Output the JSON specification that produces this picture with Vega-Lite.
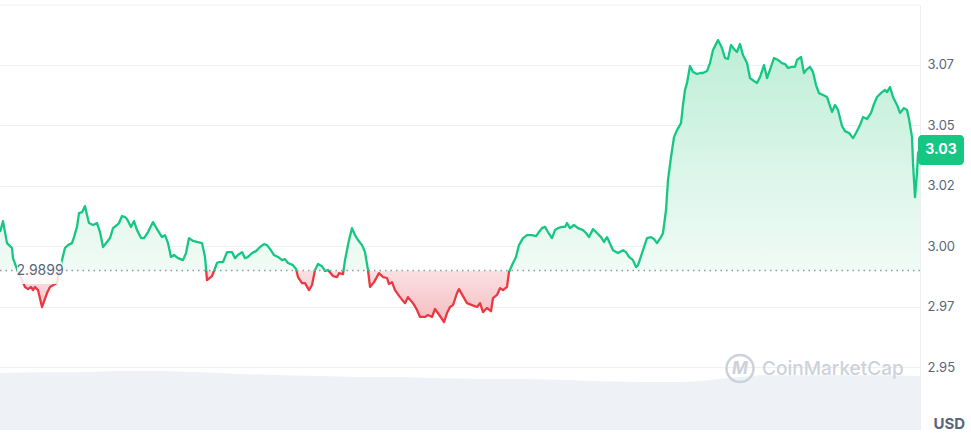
{
  "$schema": "https://vega.github.io/schema/vega-lite/v6.json",
  "width": 920,
  "height": 425,
  "autosize": {"type": "none"},
  "padding": {"left": 0, "top": 5, "right": 51, "bottom": 5},
  "background": "white",
  "config": {"font": "Inter", "view": {"stroke": null}},
  "datasets": {
    "vol": [
      {"t": 0, "volume": 13.4}, {"t": 40, "volume": 13.6}, {"t": 80, "volume": 13.6}, {"t": 120, "volume": 13.9},
      {"t": 160, "volume": 13.9}, {"t": 200, "volume": 13.6}, {"t": 240, "volume": 13.2}, {"t": 280, "volume": 12.9},
      {"t": 320, "volume": 12.7}, {"t": 360, "volume": 12.5}, {"t": 400, "volume": 12.5}, {"t": 440, "volume": 12.2},
      {"t": 480, "volume": 12.0}, {"t": 520, "volume": 12.0}, {"t": 560, "volume": 11.8}, {"t": 600, "volume": 11.5},
      {"t": 640, "volume": 11.3}, {"t": 680, "volume": 11.3}, {"t": 700, "volume": 11.5}, {"t": 720, "volume": 12.0},
      {"t": 740, "volume": 12.5}, {"t": 760, "volume": 12.9}, {"t": 800, "volume": 12.9}, {"t": 840, "volume": 12.9},
      {"t": 880, "volume": 12.9}, {"t": 920, "volume": 12.7}
    ],
    "price": [
      {"t":0,"price":3.0058},{"t":3,"price":3.0103},{"t":7,"price":3.0012},{"t":9,"price":3.0004},{"t":12,"price":2.9992},
      {"t":13,"price":2.9950},{"t":18,"price":2.9893},{"t":22,"price":2.9859},{"t":25,"price":2.9831},{"t":28,"price":2.9822},
      {"t":31,"price":2.9831},{"t":33,"price":2.9818},{"t":35,"price":2.9831},{"t":38,"price":2.9818},{"t":42,"price":2.9748},
      {"t":47,"price":2.9806},{"t":50,"price":2.9831},{"t":55,"price":2.9843},{"t":57,"price":2.9847},{"t":59,"price":2.9893},
      {"t":62,"price":2.9942},{"t":65,"price":2.9992},{"t":68,"price":3.0004},{"t":72,"price":3.0012},{"t":74,"price":3.0037},
      {"t":77,"price":3.0079},{"t":79,"price":3.0136},{"t":82,"price":3.0140},{"t":85,"price":3.0165},{"t":87,"price":3.0128},
      {"t":89,"price":3.0095},{"t":93,"price":3.0087},{"t":97,"price":3.0095},{"t":100,"price":3.0058},{"t":103,"price":2.9996},
      {"t":107,"price":3.0017},{"t":110,"price":3.0033},{"t":113,"price":3.0074},{"t":117,"price":3.0087},{"t":119,"price":3.0095},
      {"t":122,"price":3.0124},{"t":125,"price":3.0120},{"t":127,"price":3.0112},{"t":131,"price":3.0079},{"t":134,"price":3.0103},
      {"t":137,"price":3.0066},{"t":141,"price":3.0033},{"t":144,"price":3.0033},{"t":148,"price":3.0058},{"t":153,"price":3.0099},
      {"t":157,"price":3.0070},{"t":162,"price":3.0037},{"t":165,"price":3.0045},{"t":168,"price":3.0012},{"t":171,"price":2.9955},
      {"t":174,"price":2.9963},{"t":178,"price":2.9950},{"t":183,"price":2.9942},{"t":186,"price":2.9971},{"t":189,"price":3.0033},
      {"t":193,"price":3.0021},{"t":197,"price":3.0017},{"t":202,"price":3.0012},{"t":205,"price":2.9955},{"t":207,"price":2.9859},
      {"t":212,"price":2.9876},{"t":217,"price":2.9930},{"t":219,"price":2.9934},{"t":223,"price":2.9934},{"t":227,"price":2.9975},
      {"t":232,"price":2.9975},{"t":235,"price":2.9950},{"t":238,"price":2.9963},{"t":242,"price":2.9975},{"t":245,"price":2.9950},
      {"t":248,"price":2.9955},{"t":252,"price":2.9971},{"t":256,"price":2.9979},{"t":260,"price":2.9996},{"t":264,"price":3.0008},
      {"t":267,"price":3.0004},{"t":270,"price":2.9988},{"t":274,"price":2.9963},{"t":278,"price":2.9955},{"t":282,"price":2.9942},
      {"t":285,"price":2.9946},{"t":288,"price":2.9930},{"t":293,"price":2.9921},{"t":296,"price":2.9905},{"t":298,"price":2.9872},
      {"t":302,"price":2.9847},{"t":305,"price":2.9847},{"t":309,"price":2.9818},{"t":312,"price":2.9839},{"t":315,"price":2.9901},
      {"t":318,"price":2.9926},{"t":322,"price":2.9917},{"t":325,"price":2.9897},{"t":328,"price":2.9901},{"t":333,"price":2.9876},
      {"t":337,"price":2.9872},{"t":339,"price":2.9888},{"t":343,"price":2.9884},{"t":345,"price":2.9942},{"t":349,"price":3.0025},
      {"t":352,"price":3.0074},{"t":355,"price":3.0045},{"t":358,"price":3.0025},{"t":362,"price":3.0004},{"t":365,"price":2.9975},
      {"t":368,"price":2.9901},{"t":370,"price":2.9831},{"t":374,"price":2.9851},{"t":379,"price":2.9888},{"t":383,"price":2.9872},
      {"t":387,"price":2.9868},{"t":389,"price":2.9843},{"t":392,"price":2.9851},{"t":395,"price":2.9818},{"t":400,"price":2.9789},
      {"t":405,"price":2.9764},{"t":408,"price":2.9789},{"t":413,"price":2.9764},{"t":417,"price":2.9736},{"t":420,"price":2.9707},
      {"t":425,"price":2.9707},{"t":428,"price":2.9715},{"t":432,"price":2.9707},{"t":435,"price":2.9740},{"t":440,"price":2.9711},
      {"t":444,"price":2.9686},{"t":447,"price":2.9723},{"t":450,"price":2.9748},{"t":453,"price":2.9756},{"t":457,"price":2.9806},
      {"t":459,"price":2.9822},{"t":463,"price":2.9793},{"t":467,"price":2.9764},{"t":472,"price":2.9756},{"t":477,"price":2.9748},
      {"t":480,"price":2.9764},{"t":483,"price":2.9727},{"t":487,"price":2.9744},{"t":491,"price":2.9731},{"t":493,"price":2.9785},
      {"t":497,"price":2.9798},{"t":500,"price":2.9826},{"t":503,"price":2.9818},{"t":507,"price":2.9831},{"t":509,"price":2.9893},
      {"t":513,"price":2.9930},{"t":516,"price":2.9955},{"t":519,"price":3.0004},{"t":523,"price":3.0033},{"t":527,"price":3.0045},
      {"t":532,"price":3.0045},{"t":536,"price":3.0041},{"t":539,"price":3.0058},{"t":542,"price":3.0074},{"t":545,"price":3.0079},
      {"t":548,"price":3.0058},{"t":552,"price":3.0033},{"t":555,"price":3.0066},{"t":558,"price":3.0074},{"t":562,"price":3.0079},
      {"t":565,"price":3.0079},{"t":567,"price":3.0095},{"t":570,"price":3.0074},{"t":574,"price":3.0087},{"t":578,"price":3.0074},
      {"t":583,"price":3.0066},{"t":586,"price":3.0054},{"t":589,"price":3.0037},{"t":593,"price":3.0070},{"t":597,"price":3.0054},
      {"t":601,"price":3.0037},{"t":604,"price":3.0017},{"t":607,"price":3.0037},{"t":613,"price":2.9983},{"t":618,"price":2.9971},
      {"t":623,"price":2.9983},{"t":626,"price":2.9975},{"t":629,"price":2.9955},{"t":633,"price":2.9942},{"t":636,"price":2.9913},
      {"t":638,"price":2.9921},{"t":643,"price":2.9983},{"t":647,"price":3.0033},{"t":651,"price":3.0037},{"t":654,"price":3.0029},
      {"t":657,"price":3.0012},{"t":661,"price":3.0037},{"t":663,"price":3.0054},{"t":666,"price":3.0149},{"t":668,"price":3.0273},
      {"t":671,"price":3.0368},{"t":674,"price":3.0450},{"t":677,"price":3.0479},{"t":681,"price":3.0508},{"t":683,"price":3.0583},
      {"t":685,"price":3.0645},{"t":687,"price":3.0674},{"t":690,"price":3.0744},{"t":693,"price":3.0719},{"t":697,"price":3.0711},
      {"t":700,"price":3.0715},{"t":703,"price":3.0715},{"t":707,"price":3.0723},{"t":710,"price":3.0756},{"t":713,"price":3.0810},
      {"t":715,"price":3.0826},{"t":718,"price":3.0851},{"t":722,"price":3.0818},{"t":725,"price":3.0777},{"t":728,"price":3.0773},
      {"t":731,"price":3.0831},{"t":734,"price":3.0814},{"t":737,"price":3.0802},{"t":740,"price":3.0835},{"t":743,"price":3.0789},
      {"t":747,"price":3.0756},{"t":750,"price":3.0694},{"t":754,"price":3.0682},{"t":757,"price":3.0674},{"t":760,"price":3.0698},
      {"t":764,"price":3.0748},{"t":767,"price":3.0694},{"t":771,"price":3.0740},{"t":774,"price":3.0777},{"t":778,"price":3.0769},
      {"t":782,"price":3.0756},{"t":785,"price":3.0752},{"t":788,"price":3.0736},{"t":792,"price":3.0740},{"t":795,"price":3.0740},
      {"t":797,"price":3.0769},{"t":801,"price":3.0781},{"t":804,"price":3.0715},{"t":807,"price":3.0731},{"t":810,"price":3.0740},
      {"t":813,"price":3.0719},{"t":816,"price":3.0665},{"t":819,"price":3.0632},{"t":823,"price":3.0624},{"t":827,"price":3.0616},
      {"t":829,"price":3.0591},{"t":832,"price":3.0554},{"t":835,"price":3.0583},{"t":838,"price":3.0562},{"t":842,"price":3.0496},
      {"t":845,"price":3.0475},{"t":849,"price":3.0467},{"t":853,"price":3.0446},{"t":856,"price":3.0467},{"t":860,"price":3.0500},
      {"t":863,"price":3.0533},{"t":867,"price":3.0525},{"t":871,"price":3.0550},{"t":874,"price":3.0587},{"t":877,"price":3.0616},
      {"t":882,"price":3.0636},{"t":885,"price":3.0645},{"t":887,"price":3.0636},{"t":890,"price":3.0657},{"t":893,"price":3.0616},
      {"t":897,"price":3.0583},{"t":900,"price":3.0550},{"t":904,"price":3.0570},{"t":907,"price":3.0562},{"t":909,"price":3.0525},
      {"t":912,"price":3.0450},{"t":913,"price":3.0343},{"t":915,"price":3.0202},{"t":917,"price":3.0302},{"t":918,"price":3.0384},
      {"t":920,"price":3.0401}
    ],
    "refs": [{"baseline": 2.9899, "top": 3.0996}],
    "baseLabel": [{"t1": 17, "t2": 62, "p1": 2.9946, "p2": 2.9843, "t": 40, "price": 2.9899, "text": "2.9899"}],
    "current": [{"t1": 918, "t2": 964, "p1": 3.0459, "p2": 3.0335, "t": 941, "price": 3.0397, "text": "3.03"}],
    "watermark": [{"t": 740, "tText": 762, "price": 2.9494, "text": "CoinMarketCap", "logo": "M"}]
  },
  "resolve": {"scale": {"y": "independent"}},
  "layer": [
    {
      "data": {"name": "vol"},
      "mark": {"type": "area", "color": "#eef1f5"},
      "encoding": {
        "x": {"field": "t", "type": "quantitative", "scale": {"domain": [0, 920], "nice": false, "zero": false}, "axis": null},
        "y": {"field": "volume", "type": "quantitative", "scale": {"domain": [0, 100]}, "axis": null}
      }
    },
    {
      "data": {"name": "price"},
      "mark": {
        "type": "area",
        "fill": {
          "gradient": "linear", "x1": 0, "y1": 0, "x2": 0, "y2": 1,
          "stops": [
            {"offset": 0, "color": "#bdeed7"},
            {"offset": 0.45, "color": "#daf5e9"},
            {"offset": 0.8172, "color": "#f1fbf6"},
            {"offset": 0.8172, "color": "#fbe0e2"},
            {"offset": 1, "color": "#f4bec1"}
          ]
        }
      },
      "encoding": {
        "x": {"field": "t", "type": "quantitative", "scale": {"domain": [0, 920], "nice": false, "zero": false}, "axis": null},
        "y": {
          "field": "price", "type": "quantitative",
          "scale": {"domain": [2.924, 3.0996], "nice": false, "zero": false},
          "axis": {
            "orient": "right",
            "values": [2.95, 2.975, 3.0, 3.025, 3.05, 3.075],
            "labelExpr": "format(floor(datum.value*100+0.000001)/100, '.2f')",
            "grid": true, "gridColor": "#eceff3", "gridWidth": 1,
            "domain": true, "domainColor": "#eceff3",
            "ticks": false,
            "labelPadding": 7, "labelFontSize": 13, "labelColor": "#58667e", "labelFont": "Inter",
            "title": "USD", "titleAngle": 0, "titleAlign": "left", "titleBaseline": "alphabetic",
            "titleX": 13, "titleY": 423, "titleFontSize": 15, "titleFontWeight": "bold", "titleColor": "#58667e", "titleFont": "Inter"
          }
        },
        "y2": {"datum": 2.9899}
      }
    },
    {
      "data": {"name": "price"},
      "mark": {
        "type": "line", "strokeWidth": 2.3, "strokeJoin": "round",
        "stroke": {
          "gradient": "linear", "x1": 0, "y1": 0, "x2": 0, "y2": 1,
          "stops": [
            {"offset": 0, "color": "#16c784"},
            {"offset": 0.8172, "color": "#16c784"},
            {"offset": 0.8172, "color": "#ea3943"},
            {"offset": 1, "color": "#ea3943"}
          ]
        }
      },
      "encoding": {
        "x": {"field": "t", "type": "quantitative", "scale": {"domain": [0, 920], "nice": false, "zero": false}, "axis": null},
        "y": {"field": "price", "type": "quantitative", "scale": {"domain": [2.924, 3.0996], "nice": false, "zero": false}, "axis": null}
      }
    },
    {
      "data": {"name": "refs"},
      "mark": {"type": "rule", "color": "#8f99a6", "strokeDash": [1.5, 4], "strokeWidth": 1.3},
      "encoding": {"y": {"field": "baseline", "type": "quantitative", "scale": {"domain": [2.924, 3.0996], "nice": false, "zero": false}, "axis": null}}
    },
    {
      "data": {"name": "refs"},
      "mark": {"type": "rule", "color": "#eceff3", "strokeWidth": 1},
      "encoding": {"y": {"field": "top", "type": "quantitative", "scale": {"domain": [2.924, 3.0996], "nice": false, "zero": false}, "axis": null}}
    },
    {
      "data": {"name": "watermark"},
      "mark": {"type": "point", "shape": "circle", "filled": false, "stroke": "#cdd2da", "strokeWidth": 2.5, "size": 730, "opacity": 1},
      "encoding": {
        "x": {"field": "t", "type": "quantitative", "scale": {"domain": [0, 920], "nice": false, "zero": false}, "axis": null},
        "y": {"field": "price", "type": "quantitative", "scale": {"domain": [2.924, 3.0996], "nice": false, "zero": false}, "axis": null}
      }
    },
    {
      "data": {"name": "watermark"},
      "mark": {"type": "text", "color": "#cdd2da", "fontSize": 17, "fontStyle": "italic", "fontWeight": "bold", "align": "center", "baseline": "middle"},
      "encoding": {
        "x": {"field": "t", "type": "quantitative", "scale": {"domain": [0, 920], "nice": false, "zero": false}, "axis": null},
        "y": {"field": "price", "type": "quantitative", "scale": {"domain": [2.924, 3.0996], "nice": false, "zero": false}, "axis": null},
        "text": {"field": "logo"}
      }
    },
    {
      "data": {"name": "watermark"},
      "mark": {"type": "text", "color": "#cdd2da", "fontSize": 19, "fontWeight": 500, "align": "left", "baseline": "middle", "font": "Inter"},
      "encoding": {
        "x": {"field": "tText", "type": "quantitative", "scale": {"domain": [0, 920], "nice": false, "zero": false}, "axis": null},
        "y": {"field": "price", "type": "quantitative", "scale": {"domain": [2.924, 3.0996], "nice": false, "zero": false}, "axis": null},
        "text": {"field": "text"}
      }
    },
    {
      "data": {"name": "baseLabel"},
      "mark": {"type": "rect", "color": "white", "opacity": 0.85, "cornerRadius": 4},
      "encoding": {
        "x": {"field": "t1", "type": "quantitative", "scale": {"domain": [0, 920], "nice": false, "zero": false}, "axis": null},
        "x2": {"field": "t2"},
        "y": {"field": "p1", "type": "quantitative", "scale": {"domain": [2.924, 3.0996], "nice": false, "zero": false}, "axis": null},
        "y2": {"field": "p2"}
      }
    },
    {
      "data": {"name": "baseLabel"},
      "mark": {"type": "text", "color": "#58667e", "fontSize": 14, "align": "center", "baseline": "middle", "font": "Inter"},
      "encoding": {
        "x": {"field": "t", "type": "quantitative", "scale": {"domain": [0, 920], "nice": false, "zero": false}, "axis": null},
        "y": {"field": "price", "type": "quantitative", "scale": {"domain": [2.924, 3.0996], "nice": false, "zero": false}, "axis": null},
        "text": {"field": "text"}
      }
    },
    {
      "data": {"name": "current"},
      "mark": {"type": "rect", "color": "#16c784", "cornerRadius": 4},
      "encoding": {
        "x": {"field": "t1", "type": "quantitative", "scale": {"domain": [0, 920], "nice": false, "zero": false}, "axis": null},
        "x2": {"field": "t2"},
        "y": {"field": "p1", "type": "quantitative", "scale": {"domain": [2.924, 3.0996], "nice": false, "zero": false}, "axis": null},
        "y2": {"field": "p2"}
      }
    },
    {
      "data": {"name": "current"},
      "mark": {"type": "text", "color": "white", "fontSize": 14, "fontWeight": "bold", "align": "center", "baseline": "middle", "font": "Inter"},
      "encoding": {
        "x": {"field": "t", "type": "quantitative", "scale": {"domain": [0, 920], "nice": false, "zero": false}, "axis": null},
        "y": {"field": "price", "type": "quantitative", "scale": {"domain": [2.924, 3.0996], "nice": false, "zero": false}, "axis": null},
        "text": {"field": "text"}
      }
    }
  ]
}
